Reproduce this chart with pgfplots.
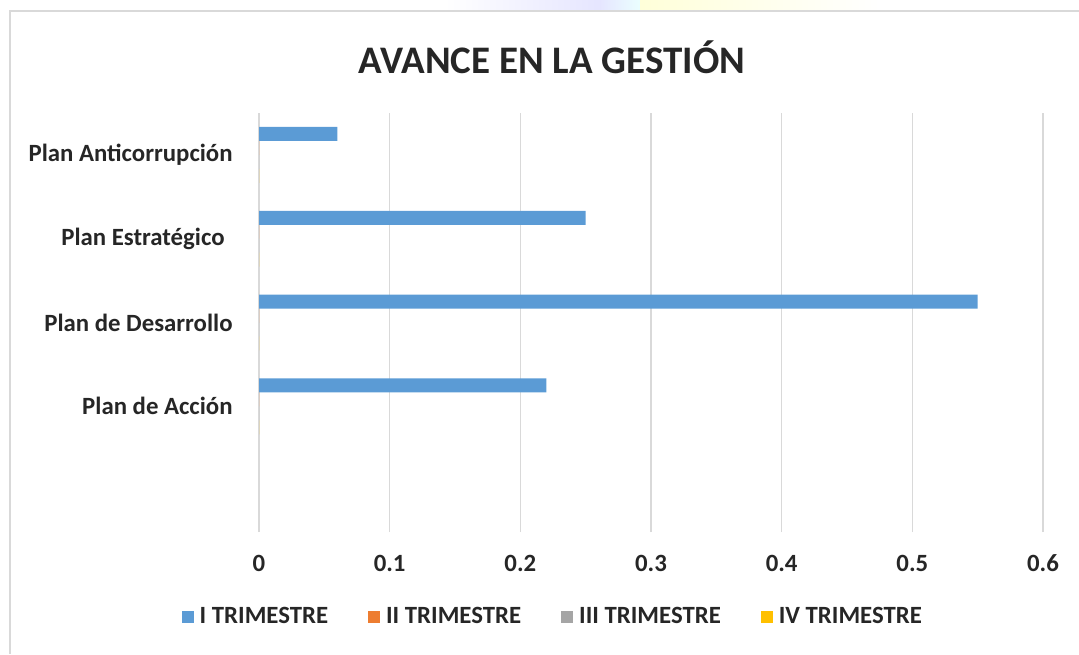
\documentclass[border=0pt]{standalone}
\usepackage{fontspec}
\setmainfont{Carlito}
\usepackage{pgfplots}
\pgfplotsset{compat=1.18}

\definecolor{serI}{HTML}{5B9BD5}
\definecolor{serII}{HTML}{ED7D31}
\definecolor{serIII}{HTML}{A5A5A5}
\definecolor{serIV}{HTML}{FFC000}
\definecolor{gridc}{HTML}{D9D9D9}
\definecolor{txt}{HTML}{262626}

\newcommand{\lbl}{\fontsize{12.4}{14.9}\selectfont\bfseries}

\pgfplotsset{sqlegend/.style={legend image code/.code={\fill[##1] (0pt,-3pt) rectangle (6pt,3pt);}}}

\begin{document}
\begin{tikzpicture}
  \useasboundingbox (0,0) rectangle (539.5pt,327pt);
  % faint banner behind the chart frame
  \shade[left color=white, right color=blue!10] (222pt,327pt) rectangle (300pt,322pt);
  \shade[left color=blue!10, right color=cyan!8] (300pt,327pt) rectangle (320pt,322pt);
  \shade[left color=yellow!15, right color=white] (320pt,327pt) rectangle (440pt,322pt);
  % chart frame (only top and left edges are visible)
  \draw[gridc, line width=1pt] (5pt,0pt) -- (5pt,321.5pt) -- (539.5pt,321.5pt);

  \node[text=txt, font=\fontsize{19.5}{23}\selectfont\bfseries] at (276pt,298.5pt) {AVANCE EN LA GESTIÓN};

  \begin{axis}[
      at={(129.5pt,61pt)}, anchor=south west,
      scale only axis,
      width=392pt, height=209.5pt,
      xbar,
      bar width=0.167,
      xmin=0, xmax=0.6,
      ymin=-0.5, ymax=4.5,
      xtick={0,0.1,0.2,0.3,0.4,0.5,0.6},
      xticklabels={0,0.1,0.2,0.3,0.4,0.5,0.6},
      ytick={1,2,3,4},
      yticklabels={Plan de Acción,Plan de Desarrollo,Plan Estratégico\hspace*{4pt},Plan Anticorrupción},
      xmajorgrids,
      ymajorgrids=false,
      grid style={gridc, line width=0.8pt},
      axis line style={draw=none},
      major tick length=0pt,
      tick label style={text=txt, font=\lbl},
      xticklabel style={anchor=center, yshift=-15.5pt},
      yticklabel style={anchor=east, inner sep=0pt, xshift=-13pt},
      legend style={at={(0.376,-0.203)}, anchor=center, draw=none, fill=none,
        font=\lbl, text=txt, legend columns=4,
        /tikz/every odd column/.append style={column sep=1pt},
        /tikz/every even column/.append style={column sep=18pt}},
      legend cell align=left,
    ]
    \addplot[fill=serI, draw=none, bar shift=0.25, sqlegend]
      coordinates {(0.22,1) (0.55,2) (0.25,3) (0.06,4)};
    \addplot[fill=serII, draw=none, bar shift=0.083, sqlegend]
      coordinates {(0,1) (0,2) (0,3) (0,4)};
    \addplot[fill=serIII, draw=none, bar shift=-0.083, sqlegend]
      coordinates {(0,1) (0,2) (0,3) (0,4)};
    \addplot[fill=serIV, draw=none, bar shift=-0.25, sqlegend]
      coordinates {(0,1) (0,2) (0,3) (0,4)};
    \legend{I TRIMESTRE, II TRIMESTRE, III TRIMESTRE, IV TRIMESTRE}
  \end{axis}
\end{tikzpicture}
\end{document}
